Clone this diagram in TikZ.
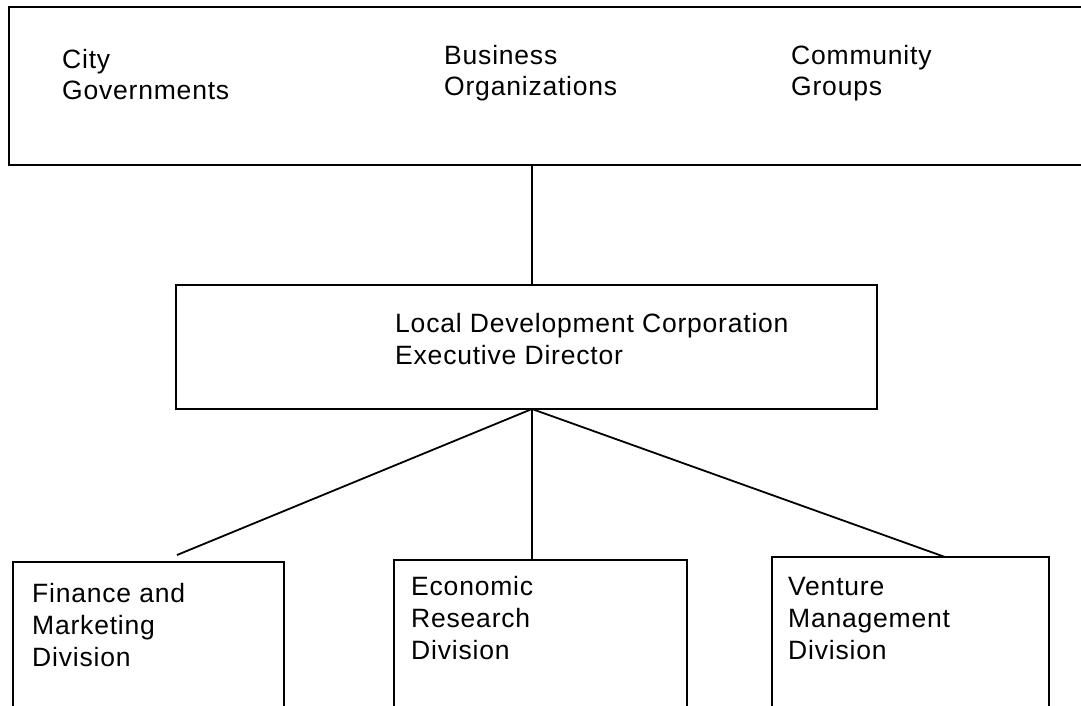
\documentclass[tikz,border=0pt]{standalone}
\usepackage{fontspec}
\setmainfont{Liberation Sans}[LetterSpace=3]
\tikzset{
  box/.style={draw, line width=2pt, inner sep=0pt, outer sep=0pt},
  label/.style={anchor=base west, align=left, inner sep=0pt,
    font=\fontsize{26.5}{32}\selectfont},
  link/.style={line width=1.8pt}
}
\begin{document}
\begin{tikzpicture}[x=1pt,y=-1pt]
\useasboundingbox (0,0) rectangle (1081,706);
\clip (0,0) rectangle (1081,706);

\node[box, minimum width=1091, minimum height=158] (members) at (554.5,86) {};
\node[box, minimum width=701, minimum height=124] (ldc) at (526.5,347) {};
\node[box, minimum width=271, minimum height=198] (finance) at (148.5,661) {};
\node[box, minimum width=293, minimum height=200] (research) at (540.5,660) {};
\node[box, minimum width=277, minimum height=203] (venture) at (910.5,658.5) {};

% base anchor sits on the last line
\node[label] (city) at (62,100) {City\\Governments};
\node[label] (business) at (444,96) {Business\\Organizations};
\node[label] (community) at (791,96) {Community\\Groups};
\node[label] (director) at (395,364) {Local Development Corporation\\Executive Director};
\node[label] (finlabel) at (32,666) {Finance and\\Marketing\\Division};
\node[label] (reslabel) at (411,659) {Economic\\Research\\Division};
\node[label] (venlabel) at (788,659) {Venture\\Management\\Division};

\coordinate (spine) at (532,0);
\coordinate (finfoot) at (177,555);
\coordinate (venfoot) at (945,557);

\draw[link] (members.south -| spine) -- (ldc.north -| spine);
\draw[link] (ldc.south -| spine) -- (finfoot);
\draw[link] (ldc.south -| spine) -- (research.north -| spine);
\draw[link] (ldc.south -| spine) -- (venfoot);
\end{tikzpicture}
\end{document}
